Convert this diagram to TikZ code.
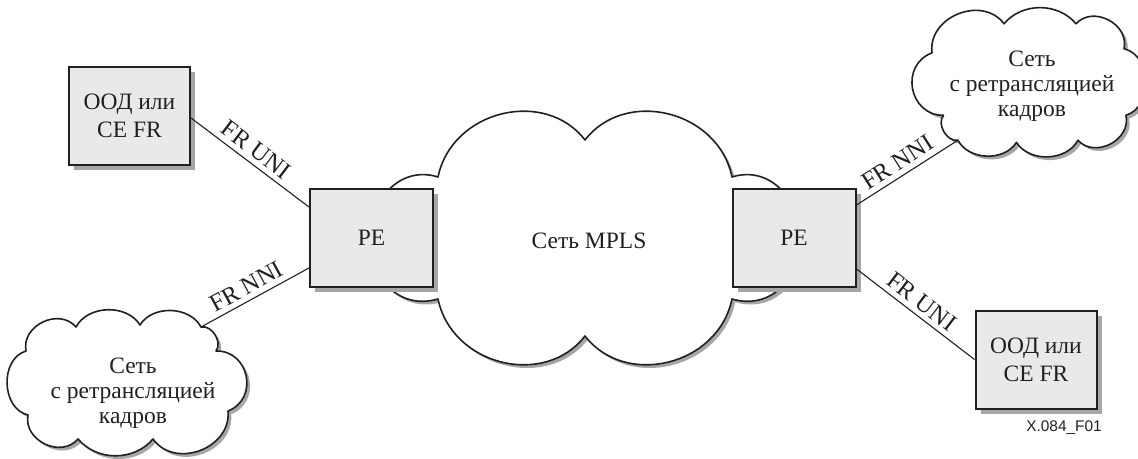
\documentclass[tikz,border=0pt]{standalone}
\usepackage{fontspec}
\setmainfont{Liberation Serif}
\newfontfamily\figsans{Liberation Sans}
\usetikzlibrary{shadows}

\definecolor{inkline}{HTML}{231F20}
\definecolor{boxfill}{HTML}{E9E9EB}
\definecolor{shadowgray}{HTML}{A6A6A6}

\tikzset{
  boxshadow/.style={drop shadow={shadow xshift=2.6pt, shadow yshift=-2.6pt, fill=shadowgray, opacity=1}},
  cloudshadow/.style={drop shadow={shadow xshift=1.6pt, shadow yshift=-1.6pt, fill=shadowgray, opacity=1}},
  cloudline/.style={draw=inkline, line width=0.8pt, fill=white, line join=round, cloudshadow},
  cebox/.style={draw=inkline, line width=1pt, fill=boxfill, boxshadow,
    minimum width=60.5pt, minimum height=49pt, inner sep=0pt, align=center,
    font=\fontsize{11.75}{14}\selectfont},
  pebox/.style={cebox, minimum width=61.5pt},
  cloudtext/.style={align=center, inner sep=0pt, font=\fontsize{11.75}{12.5}\selectfont},
  link/.style={draw=inkline, line width=0.55pt},
  lbl/.style={sloped, above, inner sep=2.6pt, pos=0.48, font=\fontsize{12.3}{14}\selectfont},
}

% small frame-relay cloud: #1 name, #2 #3 centre, #4 #5 signed scale factors
\newcommand\frcloud[5]{%
  \path[cloudline]
    ({#2+(#4)*(-102)},{#3+(#5)*(-32)})
    to[bend left=75, looseness=1.2] ({#2+(#4)*(-52)},{#3+(#5)*(-56)})
    to[bend left=60, looseness=1.0] ({#2+(#4)*(12)},{#3+(#5)*(-58)})
    to[bend left=60, looseness=1.0] ({#2+(#4)*(73)},{#3+(#5)*(-56)})
    to[bend left=70, looseness=1.0] ({#2+(#4)*(88)},{#3+(#5)*(-32)})
    to[bend left=80, looseness=1.4] ({#2+(#4)*(100)},{#3+(#5)*(28)})
    to[bend left=75, looseness=1.2] ({#2+(#4)*(25)},{#3+(#5)*(56)})
    to[bend left=50, looseness=1.0] ({#2+(#4)*(-50)},{#3+(#5)*(56)})
    to[bend left=75, looseness=1.2] ({#2+(#4)*(-100)},{#3+(#5)*(32)})
    to[bend left=75, looseness=1.1] ({#2+(#4)*(-102)},{#3+(#5)*(-32)})
    -- cycle;
  \coordinate (#1D) at ({#2+(#4)*(73)},{#3+(#5)*(-56)});
}

\begin{document}
\begin{tikzpicture}[x=0.5pt, y=-0.5pt, text=inkline]
\useasboundingbox (0,0) rectangle (1138,459);

% MPLS core cloud
\path[cloudline]
  (438,177) .. controls (452,110) and (545,88) .. (585,140)
  .. controls (625,88) and (718,110) .. (732,177)
  .. controls (770,165) and (800,200) .. (800,238)
  .. controls (800,280) and (770,310) .. (732,299)
  .. controls (718,366) and (625,388) .. (585,336)
  .. controls (545,388) and (452,366) .. (438,299)
  .. controls (400,310) and (370,280) .. (370,238)
  .. controls (370,200) and (400,165) .. (438,177) -- cycle;
\node[cloudtext] (mpls) at (589,241) {Сеть MPLS};

% provider edge routers
\node[pebox] (pe1) at (371.5,238) {PE};
\node[pebox] (pe2) at (794,238) {PE};

% frame relay networks
\frcloud{lnet}{128}{383}{1}{1}
\frcloud{rnet}{1028}{82}{-0.96}{-1.04}
\node[cloudtext] (lnettext) at (133,393) {Сеть\\с ретрансляцией\\кадров};
\node[cloudtext] (rnettext) at (1032,86) {Сеть\\с ретрансляцией\\кадров};

% customer equipment
\node[cebox] (ce1) at (129.5,116) {ООД или\\CE FR};
\node[cebox] (ce2) at (1036,359.5) {ООД или\\CE FR};

% interfaces
\draw[link] ([yshift=-1pt]ce1.east) -- node[lbl] {FR UNI} ([yshift=15.5pt]pe1.west);
\draw[link] (lnetD) -- node[lbl] {FR NNI} ([yshift=-15pt]pe1.west);
\draw[link] ([yshift=16.5pt]pe2.east) -- node[lbl] {FR NNI} (rnetD);
\draw[link] ([yshift=-15.5pt]pe2.east) -- node[lbl] {FR UNI} (ce2.west);

\node[font=\figsans\fontsize{7.7}{9}\selectfont] (figid) at (1064,428) {X.084\_F01};
\end{tikzpicture}
\end{document}
